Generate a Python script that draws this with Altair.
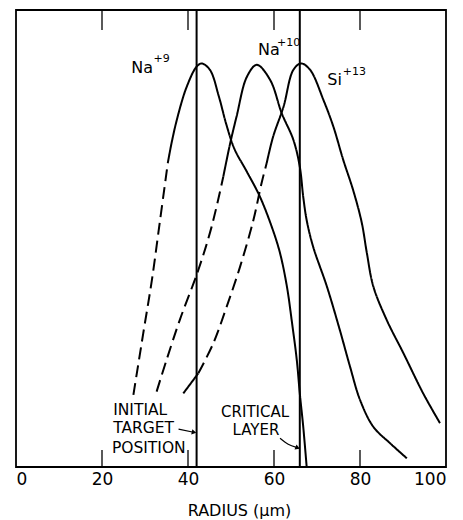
import altair as alt
import pandas as pd

# ---- data ----
x_tick_labels = [0, 20, 40, 60, 80, 100]
inner_ticks = [20, 40, 60, 80]
ref_lines = [42, 66]          # initial target position, critical layer (radius, um)

# Na+9 profile (radius, relative intensity)
na9_x = [27.3, 29.6, 31.6, 33.5, 35.3, 36.2, 37.6, 39.7, 42.0, 43.2, 45.1, 47.2, 48.9, 50.8,
         53.7, 56.7, 59.5, 61.4, 63.0, 64.1, 65.3, 66.0, 66.8, 67.6]
na9_y = [15.8, 29.3, 40.9, 54.0, 66.5, 71.0, 76.7, 83.2, 87.6, 88.3, 86.9, 81.0, 75.0, 69.6,
         64.6, 59.2, 52.5, 46.8, 39.5, 32.2, 23.4, 16.1, 8.8, 0.0]
na9_segs = [(0, 4, "dashed"), (4, 23, "solid")]

# Na+10 profile
na10_x = [32.7, 35.0, 38.1, 42.4, 45.5, 48.2, 49.8, 51.3, 53.7, 56.0, 59.1, 61.8, 64.5, 66.0,
          66.8, 67.6, 69.1, 72.3, 75.3, 77.7, 80.0, 83.1, 87.0, 90.9]
na10_y = [16.5, 23.4, 32.2, 43.1, 52.6, 63.5, 70.8, 76.7, 85.4, 88.0, 84.7, 77.4, 71.6, 65.7,
          59.1, 54.0, 48.2, 39.5, 30.0, 21.9, 14.7, 8.8, 5.2, 1.9]
na10_segs = [(0, 5, "dashed"), (5, 23, "solid")]

# Si+13 profile
si13_x = [38.9, 42.4, 45.9, 49.0, 52.1, 55.2, 57.1, 58.3, 59.8, 62.2, 64.5, 66.3, 68.4, 71.5,
          73.8, 76.1, 78.4, 80.4, 81.6, 83.1, 86.2, 90.1, 94.7, 98.6]
si13_y = [16.1, 20.5, 27.1, 35.1, 43.8, 54.0, 62.1, 66.5, 72.3, 78.8, 86.9, 88.3, 86.9, 80.3,
          74.5, 67.2, 60.6, 53.5, 46.8, 39.5, 32.2, 24.9, 16.1, 9.6]
si13_segs = [(0, 1, "solid"), (1, 7, "dashed"), (7, 23, "solid")]


def build(name, xs, ys, segs):
    rows = []
    for k, (a, b, style) in enumerate(segs):
        for i in range(a, b + 1):
            rows.append(dict(ion=name, seg=f"{name}-{k}", style=style,
                             x=xs[i], y=ys[i], order=i))
    return rows


curves = pd.DataFrame(build("Na9", na9_x, na9_y, na9_segs)
                      + build("Na10", na10_x, na10_y, na10_segs)
                      + build("Si13", si13_x, si13_y, si13_segs))

FONT = "DejaVu Sans"
xscale = alt.Scale(domain=[0, 100], nice=False, zero=False)
yscale = alt.Scale(domain=[0, 100], nice=False, zero=False)

base_x = alt.X("x:Q", scale=xscale,
               axis=alt.Axis(values=x_tick_labels, ticks=False, domain=False, grid=False,
                             labelFontSize=17, labelPadding=4, labelFont=FONT,
                             labelColor="black", labelOverlap=False, format="d",
                             title="RADIUS   (\u03bcm)", titleFont=FONT, titleFontSize=16,
                             titleFontWeight="normal", titleColor="black", titlePadding=15,
                             titleX=223, titleAlign="center"))

lines = alt.Chart(curves).mark_line(color="black", strokeWidth=2, interpolate="catmull-rom").encode(
    x=base_x,
    y=alt.Y("y:Q", scale=yscale, axis=None),
    detail="seg:N",
    order="order:Q",
    strokeDash=alt.StrokeDash("style:N",
                              scale=alt.Scale(domain=["solid", "dashed"], range=[[1, 0], [12, 6]]),
                              legend=None),
)

vlines = alt.Chart(pd.DataFrame({"x": ref_lines})).mark_rule(color="black", strokeWidth=2).encode(
    x=alt.X("x:Q", scale=xscale))

ticks_df = pd.DataFrame({"x": inner_ticks})
ticks_bottom = alt.Chart(ticks_df).mark_rule(color="black", strokeWidth=1.3).encode(
    x=alt.X("x:Q", scale=xscale), y=alt.value(440), y2=alt.value(457))
ticks_top = alt.Chart(ticks_df).mark_rule(color="black", strokeWidth=1.3).encode(
    x=alt.X("x:Q", scale=xscale), y=alt.value(0), y2=alt.value(20))

# ion labels (main text + superscript)
ion_labels = pd.DataFrame({
    "text": ["Na", "+9", "Na", "+10", "Si", "+13"],
    "x": [26.8, 32.0, 56.3, 60.7, 72.4, 76.0],
    "y": [86.2, 88.6, 90.2, 92.1, 83.6, 85.8],
    "fs": [16, 11, 16, 11, 16, 11],
})
ion_text = alt.Chart(ion_labels).mark_text(align="left", baseline="alphabetic", font=FONT,
                                           color="black").encode(
    x=alt.X("x:Q", scale=xscale), y=alt.Y("y:Q", scale=yscale),
    text="text:N", size=alt.Size("fs:Q", scale=None))

left_notes = pd.DataFrame({"text": ["INITIAL", "TARGET", "POSITION"],
                           "x": [22.6, 22.6, 22.3], "y": [11.4, 7.4, 3.1]})
left_text = alt.Chart(left_notes).mark_text(align="left", baseline="alphabetic", font=FONT,
                                            fontSize=15.5, color="black").encode(
    x=alt.X("x:Q", scale=xscale), y=alt.Y("y:Q", scale=yscale), text="text:N")

center_notes = pd.DataFrame({"text": ["CRITICAL", "LAYER"], "x": [55.6, 55.8], "y": [10.9, 7.0]})
center_text = alt.Chart(center_notes).mark_text(align="center", baseline="alphabetic", font=FONT,
                                                fontSize=15, color="black").encode(
    x=alt.X("x:Q", scale=xscale), y=alt.Y("y:Q", scale=yscale), text="text:N")

# arrows
arrows = pd.DataFrame({
    "arrow": ["a", "a", "b", "b", "b"],
    "x": [37.8, 41.3, 61.4, 63.3, 65.2],
    "y": [8.3, 7.6, 6.3, 5.0, 4.3],
    "o": [0, 1, 0, 1, 2],
})
arrow_lines = alt.Chart(arrows).mark_line(color="black", strokeWidth=1.2, interpolate="monotone").encode(
    x=alt.X("x:Q", scale=xscale), y=alt.Y("y:Q", scale=yscale), detail="arrow:N", order="o:Q")
heads = pd.DataFrame({"x": [41.4, 65.5], "y": [7.6, 4.2], "ang": [102, 112]})
arrow_heads = alt.Chart(heads).mark_point(shape="triangle-up", filled=True, color="black",
                                          size=28, opacity=1).encode(
    x=alt.X("x:Q", scale=xscale), y=alt.Y("y:Q", scale=yscale),
    angle=alt.Angle("ang:Q", scale=None))

chart = alt.layer(lines, vlines, ticks_bottom, ticks_top, ion_text, left_text, center_text,
                  arrow_lines, arrow_heads).properties(
    width=430, height=457,
    autosize=alt.AutoSizeParams(type="none"),
    padding={"left": 8, "top": 2, "right": 9, "bottom": 53},
    background="white",
).configure_view(stroke="black", strokeWidth=1.8)

chart.save("out.html", embed_options={"renderer": "svg", "actions": False})
